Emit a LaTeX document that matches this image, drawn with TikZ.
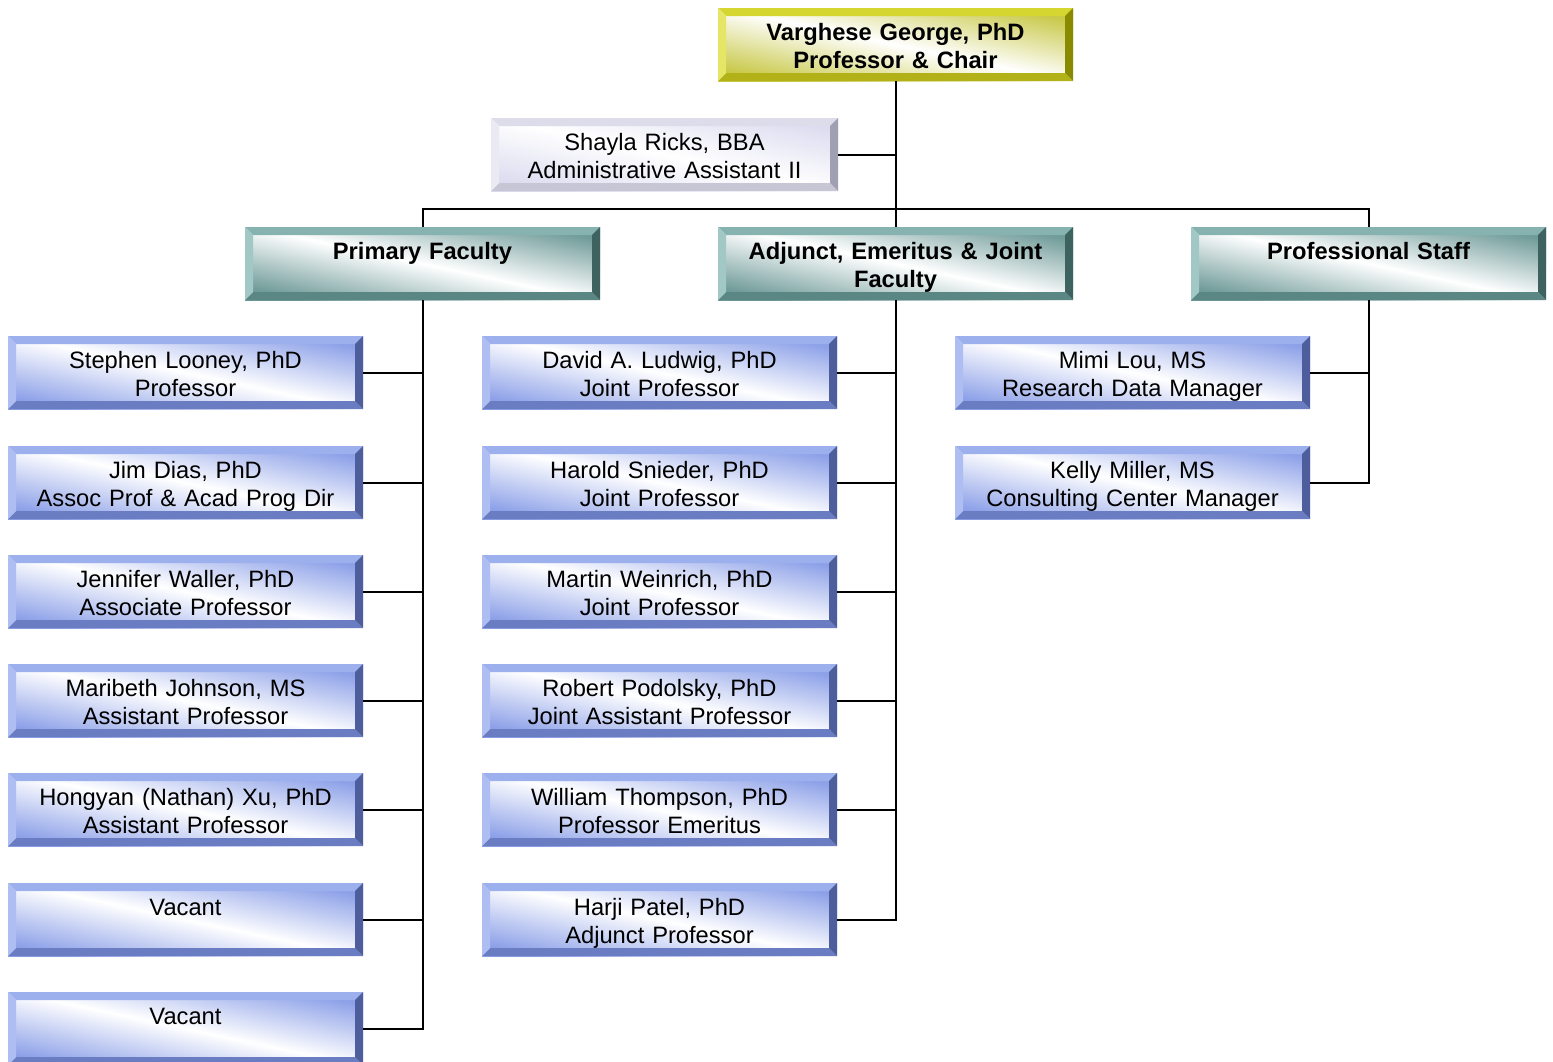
\documentclass[tikz,border=0pt]{standalone}
\usepackage{fontspec}
\setmainfont{Liberation Sans}
\usetikzlibrary{calc}
\definecolor{bGrad}{HTML}{8CA0E8}
\definecolor{bTop}{HTML}{9DB0EE}
\definecolor{bLeft}{HTML}{AEBEF2}
\definecolor{bRight}{HTML}{4E5E9C}
\definecolor{bBot}{HTML}{6A7DC2}
\definecolor{tGrad}{HTML}{6E9A98}
\definecolor{tTop}{HTML}{86B2B0}
\definecolor{tLeft}{HTML}{A2C8C6}
\definecolor{tRight}{HTML}{3E6260}
\definecolor{tBot}{HTML}{5A8684}
\definecolor{yGrad}{HTML}{C8C848}
\definecolor{yTop}{HTML}{D6D630}
\definecolor{yLeft}{HTML}{E6E666}
\definecolor{yRight}{HTML}{8A8A00}
\definecolor{yBot}{HTML}{B2B218}
\definecolor{gGrad}{HTML}{DCDCF0}
\definecolor{gTop}{HTML}{DCDCEA}
\definecolor{gLeft}{HTML}{EAEAF2}
\definecolor{gRight}{HTML}{A0A0B2}
\definecolor{gBot}{HTML}{C6C6D4}
\newcommand\bevelpaint[4]{%
  \path (path picture bounding box.north west) coordinate (bNW)
        (path picture bounding box.north east) coordinate (bNE)
        (path picture bounding box.south west) coordinate (bSW)
        (path picture bounding box.south east) coordinate (bSE);
  \fill[#1] (bNW) -- (bNE) -- ($(bNE)+(-8pt,-8pt)$) -- ($(bNW)+(8pt,-8pt)$) -- cycle;
  \fill[#4] (bSW) -- (bSE) -- ($(bSE)+(-8pt,8pt)$) -- ($(bSW)+(8pt,8pt)$) -- cycle;
  \fill[#2] (bNW) -- ($(bNW)+(8pt,-8pt)$) -- ($(bSW)+(8pt,8pt)$) -- (bSW) -- cycle;
  \fill[#3] (bNE) -- ($(bNE)+(-8pt,-8pt)$) -- ($(bSE)+(-8pt,8pt)$) -- (bSE) -- cycle;
}
\tikzset{
  orgbox/.style={rectangle, minimum width=355pt, minimum height=73pt, inner sep=0pt, outer sep=0pt,
    text width=350pt, align=center, anchor=north west,
    font=\fontsize{23.7}{28}\selectfont,
    execute at begin node={\rule{0pt}{27.6pt}}, execute at end node={\strut}},
  bluebox/.style={orgbox, top color=bGrad, bottom color=bGrad, middle color=white, shading angle=-12,
    path picture={\bevelpaint{bTop}{bLeft}{bRight}{bBot}}},
  tealbox/.style={orgbox, top color=tGrad, bottom color=tGrad, middle color=white, shading angle=-12,
    font=\fontsize{23.7}{28}\selectfont\bfseries,
    path picture={\bevelpaint{tTop}{tLeft}{tRight}{tBot}}},
  yellowbox/.style={orgbox, top color=yGrad, bottom color=yGrad, middle color=white, shading angle=-12,
    font=\fontsize{23.7}{28}\selectfont\bfseries,
    path picture={\bevelpaint{yTop}{yLeft}{yRight}{yBot}}},
  graybox/.style={orgbox, minimum width=347pt, text width=340pt, top color=gGrad, bottom color=gGrad, middle color=white, shading angle=-12,
    path picture={\bevelpaint{gTop}{gLeft}{gRight}{gBot}}},
  conn/.style={draw=black, line width=2pt}
}
\begin{document}
\begin{tikzpicture}[x=1pt, y=-1pt]
\useasboundingbox (0,0) rectangle (1553,1061);
\node[yellowbox] (chair) at (718,8) {Varghese George, PhD\\Professor \& Chair};
\node[graybox] (shayla) at (491,118) {Shayla Ricks, BBA\\Administrative Assistant II};
\node[tealbox] (prim) at (245,227) {Primary Faculty\\};
\node[tealbox] (adj) at (718,227) {Adjunct, Emeritus \& Joint\\Faculty};
\node[tealbox] (prof) at (1191,227) {Professional Staff\\};
% left column
\node[bluebox] (l1) at (8,336) {Stephen Looney, PhD\\Professor};
\node[bluebox] (l2) at (8,446) {Jim Dias, PhD\\Assoc Prof \& Acad Prog Dir};
\node[bluebox] (l3) at (8,555) {Jennifer Waller, PhD\\Associate Professor};
\node[bluebox] (l4) at (8,664) {Maribeth Johnson, MS\\Assistant Professor};
\node[bluebox] (l5) at (8,773) {Hongyan (Nathan) Xu, PhD\\Assistant Professor};
\node[bluebox] (l6) at (8,883) {Vacant\\};
\node[bluebox] (l7) at (8,992) {Vacant\\};
% middle column
\node[bluebox] (m1) at (482,336) {David A. Ludwig, PhD\\Joint Professor};
\node[bluebox] (m2) at (482,446) {Harold Snieder, PhD\\Joint Professor};
\node[bluebox] (m3) at (482,555) {Martin Weinrich, PhD\\Joint Professor};
\node[bluebox] (m4) at (482,664) {Robert Podolsky, PhD\\Joint Assistant Professor};
\node[bluebox] (m5) at (482,773) {William Thompson, PhD\\Professor Emeritus};
\node[bluebox] (m6) at (482,883) {Harji Patel, PhD\\Adjunct Professor};
% right column
\node[bluebox] (r1) at (955,336) {Mimi Lou, MS\\Research Data Manager};
\node[bluebox] (r2) at (955,446) {Kelly Miller, MS\\Consulting Center Manager};
% connectors
\coordinate (bus) at (0,209);
\draw[conn] (chair.south) -- (chair.south |- adj.north);
\draw[conn] (shayla.east) -- (shayla.east -| chair.south);
\draw[conn] (prim.north) -- (prim.north |- bus) -- (prof.north |- bus) -- (prof.north);
\draw[conn] (prim.south) -- (prim.south |- l7.east) -- (l7.east);
\foreach \n in {l1,l2,l3,l4,l5,l6} \draw[conn] (\n.east) -- (\n.east -| prim.south);
\draw[conn] (adj.south) -- (adj.south |- m6.east) -- (m6.east);
\foreach \n in {m1,m2,m3,m4,m5} \draw[conn] (\n.east) -- (\n.east -| adj.south);
\draw[conn] (prof.south) -- (prof.south |- r2.east) -- (r2.east);
\draw[conn] (r1.east) -- (r1.east -| prof.south);
\end{tikzpicture}
\end{document}
